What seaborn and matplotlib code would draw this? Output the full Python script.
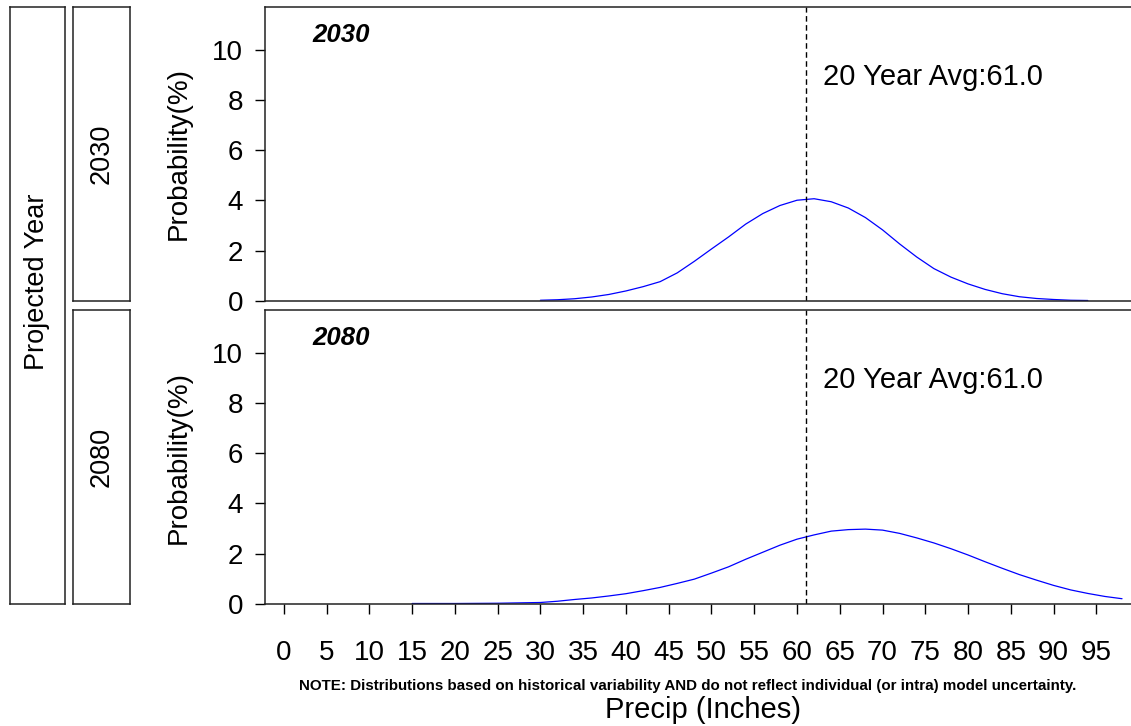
import matplotlib
matplotlib.use("Agg")
import matplotlib.pyplot as plt
import seaborn as sns
import pandas as pd

# ---------------- data ----------------
years = ["2030", "2080"]
avg_precip = [61.0, 61.0]

precip_2030 = [30, 32, 34, 36, 38, 40, 42, 44, 46, 48, 50, 52, 54, 56, 58, 60, 62,
               64, 66, 68, 70, 72, 74, 76, 78, 80, 82, 84, 86, 88, 90, 92, 94]
prob_2030 = [0.03, 0.05, 0.09, 0.16, 0.26, 0.40, 0.57, 0.77, 1.12, 1.58, 2.07, 2.55,
             3.06, 3.48, 3.80, 4.01, 4.07, 3.95, 3.70, 3.32, 2.83, 2.27, 1.75, 1.29,
             0.95, 0.68, 0.46, 0.29, 0.17, 0.10, 0.06, 0.03, 0.02]

precip_2080 = [15, 20, 25, 30, 32, 34, 36, 38, 40, 42, 44, 46, 48, 50, 52, 54, 56, 58,
               60, 62, 64, 66, 68, 70, 72, 74, 76, 78, 80, 82, 84, 86, 88, 90, 92, 94,
               96, 98]
prob_2080 = [0.02, 0.02, 0.03, 0.06, 0.11, 0.18, 0.24, 0.32, 0.41, 0.53, 0.66, 0.82,
             0.99, 1.23, 1.48, 1.78, 2.06, 2.34, 2.58, 2.75, 2.90, 2.96, 2.98, 2.94,
             2.81, 2.63, 2.43, 2.20, 1.95, 1.68, 1.42, 1.17, 0.95, 0.74, 0.56, 0.42,
             0.30, 0.21]

x_ticks = [0, 5, 10, 15, 20, 25, 30, 35, 40, 45, 50, 55, 60, 65, 70, 75, 80, 85, 90, 95]
y_ticks = [0, 2, 4, 6, 8, 10]

df = pd.concat([
    pd.DataFrame({"Precip": precip_2030, "Probability": prob_2030, "Year": "2030"}),
    pd.DataFrame({"Precip": precip_2080, "Probability": prob_2080, "Year": "2080"}),
])

# ---------------- style ----------------
sns.set_style("white")
plt.rcParams["font.family"] = ["Liberation Sans", "DejaVu Sans"]
plt.rcParams["text.color"] = "black"
plt.rcParams["axes.labelcolor"] = "black"
plt.rcParams["xtick.color"] = "black"
plt.rcParams["ytick.color"] = "black"

W, H = 1131, 726
fig = plt.figure(figsize=(W / 100, H / 100), dpi=100)


def fx(px):
    return px / W


def fy(py):
    return 1 - py / H


ax_left, ax_right = 265, 1140
panels = [(7, 301), (310, 604)]
axes = []
for (top, bot), yr, avg in zip(panels, years, avg_precip):
    ax = fig.add_axes([fx(ax_left), fy(bot), fx(ax_right - ax_left), (bot - top) / H])
    sub = df[df["Year"] == yr]
    sns.lineplot(data=sub, x="Precip", y="Probability", ax=ax, color="#0000FF",
                 linewidth=0.9, legend=False)
    ax.axvline(avg, color="black", linestyle=(0, (4, 2.5)), linewidth=1.0)
    ax.set_xlim(-2.2, 100.1)
    ax.set_ylim(0, 11.7)
    ax.set_yticks(y_ticks)
    ax.set_yticklabels([str(v) for v in y_ticks], fontsize=20)
    ax.tick_params(axis="y", direction="out", length=7.2, width=1.0, pad=8.5,
                   left=True, colors="black")
    for s in ["left", "top", "bottom"]:
        ax.spines[s].set_color("#222222")
        ax.spines[s].set_linewidth(1.1)
    ax.spines["right"].set_visible(False)
    ax.set_ylabel("Probability(%)", fontsize=20, color="black")
    ax.yaxis.set_label_coords((192 - ax_left) / (ax_right - ax_left), 0.5)
    ax.text(3.3, 10.3, yr, fontsize=18.5, fontweight="bold", fontstyle="italic",
            ha="left", va="baseline", color="black")
    ax.text(63.0, 8.6, "20 Year Avg:%.1f" % avg, fontsize=21, ha="left",
            va="baseline", color="black")
    axes.append(ax)

axes[0].set_xticks([])
axes[0].set_xlabel("")
ax = axes[1]
ax.set_xticks(x_ticks)
ax.set_xticklabels([str(v) for v in x_ticks], fontsize=20)
ax.tick_params(axis="x", direction="out", length=7.2, width=1.0, pad=19,
               bottom=True, colors="black")
ax.set_xlabel("")

fig.text(fx(703), fy(710), "Precip (Inches)", fontsize=21, ha="center", va="center",
         color="black")
fig.text(fx(688), fy(686),
         "NOTE: Distributions based on historical variability AND do not reflect "
         "individual (or intra) model uncertainty.",
         fontsize=10.9, fontweight="bold", ha="center", va="center", color="black")

# ---------------- strip boxes ----------------
def box(x0, y0, x1, y1, label, cy=None):
    b = fig.add_axes([fx(x0), fy(y1), fx(x1 - x0), (y1 - y0) / H])
    b.set_xticks([])
    b.set_yticks([])
    for s in b.spines.values():
        s.set_visible(True)
        s.set_color("#222222")
        s.set_linewidth(1.1)
    yc = 0.5 if cy is None else (y1 - cy) / (y1 - y0)
    b.text(0.5, yc, label, rotation=90, ha="center", va="center", fontsize=19.5,
           transform=b.transAxes, color="black")
    return b


box(10, 7, 65, 604, "Projected Year", cy=281.5)
box(73, 7, 130, 301, years[0])
box(73, 310, 130, 604, years[1])

fig.savefig("out.png", dpi=100)
